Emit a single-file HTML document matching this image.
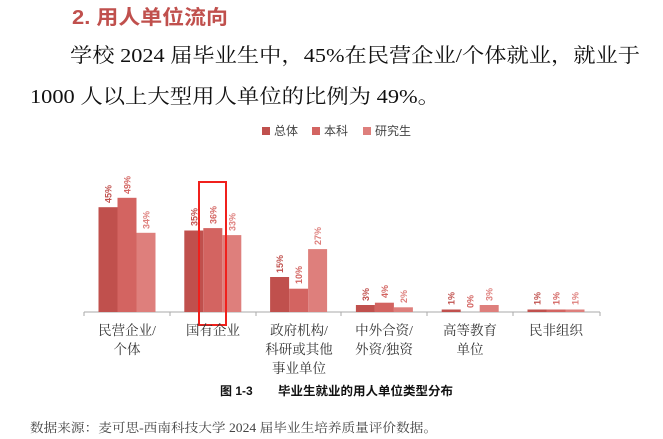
<!DOCTYPE html>
<html><head><meta charset="utf-8"><style>
html,body{margin:0;padding:0;background:#fff;}
svg{display:block;}
text{font-family:"Liberation Serif","Noto Serif CJK SC","Noto Sans CJK SC",serif;}
.s,.s text{font-family:"Liberation Sans","Noto Sans CJK SC",sans-serif;}
</style></head><body>
<svg width="663" height="439" viewBox="0 0 663 439" xmlns="http://www.w3.org/2000/svg">
<text x="72" y="24" font-size="20" font-weight="bold" fill="#c0504d" class="s" textLength="156" lengthAdjust="spacingAndGlyphs">2. 用人单位流向</text>
<text x="70" y="62" font-size="20" fill="#111" textLength="570" lengthAdjust="spacingAndGlyphs">学校 2024 届毕业生中，45%在民营企业/个体就业，就业于</text>
<text x="30" y="103" font-size="20" fill="#111" textLength="410" lengthAdjust="spacingAndGlyphs">1000 人以上大型用人单位的比例为 49%。</text>

<g class="s" font-size="12" fill="#444">
<rect x="262" y="127" width="8" height="8" fill="#c0504d"/><text x="274" y="135">总体</text>
<rect x="312" y="127" width="8" height="8" fill="#d36461"/><text x="324" y="135">本科</text>
<rect x="363" y="127" width="8" height="8" fill="#de7f7c"/><text x="375" y="135">研究生</text>
</g>

<line x1="84" y1="312" x2="600" y2="312" stroke="#aaa" stroke-width="1"/>
<g stroke="#aaa"><line x1="84" y1="312" x2="84" y2="316"/><line x1="170" y1="312" x2="170" y2="316"/><line x1="256" y1="312" x2="256" y2="316"/><line x1="341" y1="312" x2="341" y2="316"/><line x1="427" y1="312" x2="427" y2="316"/><line x1="513" y1="312" x2="513" y2="316"/><line x1="600" y1="312" x2="600" y2="316"/></g>

<g>
<rect x="98.5" y="207.2" width="19" height="104.8" fill="#c0504d"/>
<rect x="117.5" y="197.8" width="19" height="114.2" fill="#d36461"/>
<rect x="136.5" y="232.8" width="19" height="79.2" fill="#de7f7c"/>
<rect x="184.3" y="230.5" width="19" height="81.5" fill="#c0504d"/>
<rect x="203.3" y="228.1" width="19" height="83.9" fill="#d36461"/>
<rect x="222.3" y="235.1" width="19" height="76.9" fill="#de7f7c"/>
<rect x="270.1" y="277" width="19" height="35" fill="#c0504d"/>
<rect x="289.1" y="288.7" width="19" height="23.3" fill="#d36461"/>
<rect x="308.1" y="249.1" width="19" height="62.9" fill="#de7f7c"/>
<rect x="355.9" y="305" width="19" height="7" fill="#c0504d"/>
<rect x="374.9" y="302.7" width="19" height="9.3" fill="#d36461"/>
<rect x="393.9" y="307.3" width="19" height="4.7" fill="#de7f7c"/>
<rect x="441.7" y="309.5" width="19" height="2.5" fill="#c0504d"/>
<rect x="479.7" y="305" width="19" height="7" fill="#de7f7c"/>
<rect x="527.5" y="309.5" width="19" height="2.5" fill="#c0504d"/>
<rect x="546.5" y="309.5" width="19" height="2.5" fill="#d36461"/>
<rect x="565.5" y="309.5" width="19" height="2.5" fill="#de7f7c"/>
</g>
<g class="s" font-size="9" font-weight="bold">
<text transform="translate(111.5,203) rotate(-90)" fill="#c0504d">45%</text>
<text transform="translate(130.5,194) rotate(-90)" fill="#d36461">49%</text>
<text transform="translate(149.5,229) rotate(-90)" fill="#de7f7c">34%</text>
<text transform="translate(197.3,226) rotate(-90)" fill="#c0504d">35%</text>
<text transform="translate(216.3,224) rotate(-90)" fill="#d36461">36%</text>
<text transform="translate(235.3,231) rotate(-90)" fill="#de7f7c">33%</text>
<text transform="translate(283.1,273) rotate(-90)" fill="#c0504d">15%</text>
<text transform="translate(302.1,284) rotate(-90)" fill="#d36461">10%</text>
<text transform="translate(321.1,245) rotate(-90)" fill="#de7f7c">27%</text>
<text transform="translate(368.9,301) rotate(-90)" fill="#c0504d">3%</text>
<text transform="translate(387.9,298) rotate(-90)" fill="#d36461">4%</text>
<text transform="translate(406.9,303) rotate(-90)" fill="#de7f7c">2%</text>
<text transform="translate(454.7,305) rotate(-90)" fill="#c0504d">1%</text>
<text transform="translate(473.7,308) rotate(-90)" fill="#d36461">0%</text>
<text transform="translate(492.7,301) rotate(-90)" fill="#de7f7c">3%</text>
<text transform="translate(540.5,305) rotate(-90)" fill="#c0504d">1%</text>
<text transform="translate(559.5,305) rotate(-90)" fill="#d36461">1%</text>
<text transform="translate(578.5,305) rotate(-90)" fill="#de7f7c">1%</text>
</g>

<rect x="199" y="182" width="27" height="143" fill="none" stroke="#f0201c" stroke-width="2"/>

<g font-size="13.5" fill="#333" text-anchor="middle">
<text x="127" y="335">民营企业/</text><text x="127" y="354">个体</text>
<text x="213" y="335">国有企业</text>
<text x="299" y="335">政府机构/</text><text x="299" y="354">科研或其他</text><text x="299" y="373">事业单位</text>
<text x="384" y="335">中外合资/</text><text x="384" y="354">外资/独资</text>
<text x="470" y="335">高等教育</text><text x="470" y="354">单位</text>
<text x="556" y="335">民非组织</text>
</g>
<text x="220" y="395" font-size="12" font-weight="bold" fill="#111" class="s">图 1-3</text>
<text x="278" y="395" font-size="12" font-weight="bold" fill="#111" class="s" textLength="175" lengthAdjust="spacingAndGlyphs">毕业生就业的用人单位类型分布</text>
<text x="30" y="432" font-size="12.5" fill="#444" textLength="407" lengthAdjust="spacingAndGlyphs">数据来源：麦可思-西南科技大学 2024 届毕业生培养质量评价数据。</text>
</svg>
</body></html>
